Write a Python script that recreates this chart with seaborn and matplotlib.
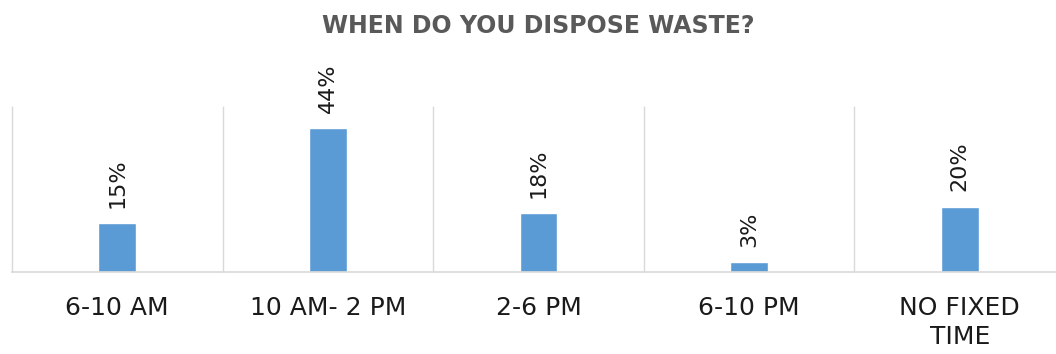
import seaborn as sns
import matplotlib.pyplot as plt

categories = ["6-10 AM", "10 AM- 2 PM", "2-6 PM", "6-10 PM", "NO FIXED\nTIME"]
shares = [15, 44, 18, 3, 20]
labels = ["15%", "44%", "18%", "3%", "20%"]

sns.set_style("white")
plt.rcParams["font.family"] = ["DejaVu Sans"]

fig = plt.figure(figsize=(10.56, 3.54), dpi=100)
ax = fig.add_axes([12 / 1056, 82 / 354, 1053 / 1056, 166 / 354])

sns.barplot(
    x=categories,
    y=shares,
    color="#5B9BD5",
    saturation=1,
    width=0.18,
    ax=ax
)

ymax = 50.8
ax.set_ylim(0, ymax)
ax.set_xlim(-0.5, len(categories) - 0.5)

# category separators
ax.vlines(
    [i - 0.5 for i in range(len(categories) + 1)],
    0, ymax,
    color="#d9d9d9",
    lw=1,
    clip_on=False,
    zorder=0
)

for s in ["top", "right", "left"]:
    ax.spines[s].set_visible(False)
ax.spines["bottom"].set_color("#d9d9d9")
ax.spines["bottom"].set_linewidth(1.2)

ax.set_yticks([])
ax.tick_params(axis="x", length=0, pad=17, labelsize=18, labelcolor="#1a1a1a")
for t in ax.get_xticklabels():
    t.set_linespacing(1.3)

for i, (v, lab) in enumerate(zip(shares, labels)):
    ax.annotate(
        lab,
        (i, v),
        xytext=(0, 11),
        textcoords="offset points",
        rotation=90,
        ha="center",
        va="bottom",
        fontsize=16,
        color="#1a1a1a"
    )

fig.text(
    538 / 1056, 1 - 26 / 354,
    "WHEN DO YOU DISPOSE WASTE?",
    ha="center",
    va="center",
    fontsize=17,
    fontweight="bold",
    color="#595959"
)

fig.savefig("out.png", dpi=100)
plt.close()
